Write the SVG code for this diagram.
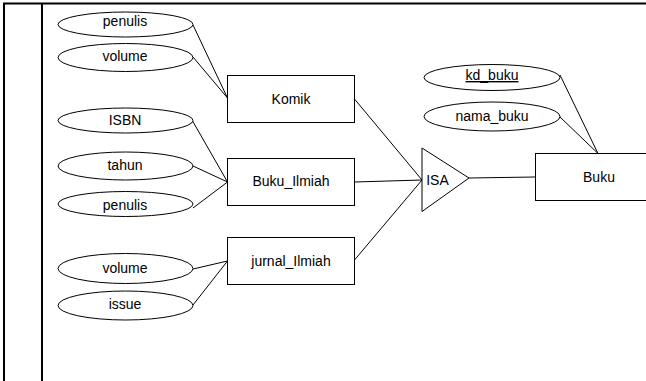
<svg xmlns="http://www.w3.org/2000/svg" width="646" height="381" viewBox="0 0 646 381">
<style>
.e{fill:#fff;stroke:#000;stroke-width:1}
.r{fill:#fff;stroke:#000;stroke-width:1}
.t{font-family:"Liberation Sans",Arial,sans-serif;font-size:14px;fill:#000;text-anchor:middle}
.c{stroke:#000;stroke-width:1;fill:none}
.b{stroke:#000;stroke-width:2;fill:none}
</style>
<rect width="646" height="381" fill="#fff"/>
<g id="frame">
<line class="b" x1="3" y1="3.5" x2="646" y2="3.5"/>
<line class="b" x1="4" y1="3" x2="4" y2="381"/>
<line class="b" x1="42" y1="3" x2="42" y2="381"/>
</g>
<g id="connectors">
<line class="c" x1="193" y1="25" x2="227.5" y2="98"/>
<line class="c" x1="193" y1="57" x2="227.5" y2="98"/>
<line class="c" x1="192" y1="120" x2="227.5" y2="182"/>
<line class="c" x1="193" y1="166" x2="227.5" y2="182"/>
<line class="c" x1="193" y1="208" x2="227.5" y2="182"/>
<line class="c" x1="193" y1="269" x2="227.5" y2="261"/>
<line class="c" x1="193" y1="305" x2="227.5" y2="261"/>
<line class="c" x1="354.5" y1="99" x2="422" y2="180"/>
<line class="c" x1="354.5" y1="182" x2="422" y2="180"/>
<line class="c" x1="354.5" y1="260" x2="422" y2="180"/>
<line class="c" x1="469" y1="178" x2="535.5" y2="177"/>
<line class="c" x1="560" y1="75" x2="598" y2="153.5"/>
<line class="c" x1="560" y1="117" x2="598" y2="153.5"/>
</g>
<g id="attr-penulis-1"><ellipse class="e" cx="125.5" cy="24.5" rx="67.5" ry="12.5"/><text class="t" x="125" y="25.5">penulis</text></g>
<g id="attr-volume-1"><ellipse class="e" cx="125.5" cy="57.5" rx="67.5" ry="14"/><text class="t" x="125" y="61">volume</text></g>
<g id="attr-isbn"><ellipse class="e" cx="125.5" cy="120.5" rx="67.5" ry="12.5"/><text class="t" x="125" y="124.5">ISBN</text></g>
<g id="attr-tahun"><ellipse class="e" cx="125.5" cy="166" rx="67.5" ry="14"/><text class="t" x="125" y="169.5">tahun</text></g>
<g id="attr-penulis-2"><ellipse class="e" cx="125.5" cy="204" rx="67.5" ry="12.5"/><text class="t" x="125" y="210">penulis</text></g>
<g id="attr-volume-2"><ellipse class="e" cx="125.5" cy="268.5" rx="67.5" ry="15"/><text class="t" x="125" y="272.5">volume</text></g>
<g id="attr-issue"><ellipse class="e" cx="125.5" cy="305.5" rx="67.5" ry="14.5"/><text class="t" x="125" y="309">issue</text></g>
<g id="komik"><rect class="r" x="227.5" y="75.5" width="127" height="47"/><text class="t" x="291" y="103.5">Komik</text></g>
<g id="buku-ilmiah"><rect class="r" x="227.5" y="158.5" width="127" height="47"/><text class="t" x="291" y="186">Buku_Ilmiah</text></g>
<g id="jurnal-ilmiah"><rect class="r" x="227.5" y="237.5" width="127" height="47"/><text class="t" x="291" y="265.5">jurnal_Ilmiah</text></g>
<g id="isa"><polygon class="r" points="422,148 469,178 422,211.5"/><text class="t" x="437.5" y="184.5">ISA</text></g>
<g id="attr-kd-buku"><ellipse class="e" cx="492" cy="77.5" rx="68" ry="13"/><text class="t" x="492" y="80" text-decoration="underline">kd_buku</text></g>
<g id="attr-nama-buku"><ellipse class="e" cx="492" cy="116.5" rx="68" ry="14.5"/><text class="t" x="492" y="121">nama_buku</text></g>
<g id="buku"><rect class="r" x="535.5" y="153.5" width="128" height="47"/><text class="t" x="599" y="182">Buku</text></g>
</svg>
